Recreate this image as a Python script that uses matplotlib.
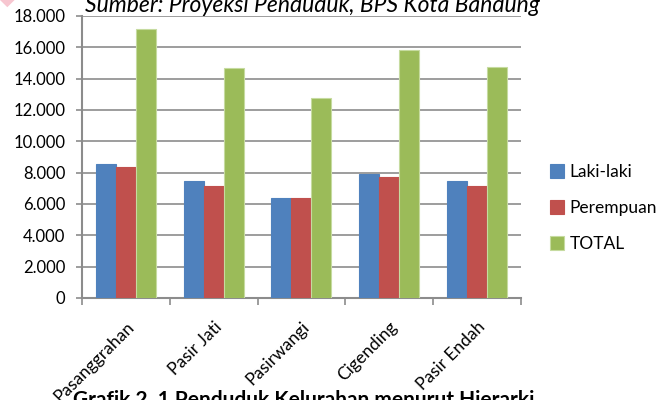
import numpy as np
import matplotlib
matplotlib.use("Agg")
import matplotlib.pyplot as plt
from matplotlib.patches import Polygon
from matplotlib.ticker import FuncFormatter

plt.rcParams['font.family'] = ['Lato', 'DejaVu Sans']

# Jumlah penduduk per kelurahan
kelurahan = ["Pasanggrahan", "Pasir Jati", "Pasirwangi", "Cigending", "Pasir Endah"]
laki = [8560, 7450, 6380, 7940, 7450]
perempuan = [8370, 7150, 6380, 7730, 7150]
total = [17150, 14660, 12770, 15810, 14770]

series = [("Laki-laki", laki, "#4F81BD", "#4F81BD"),
          ("Perempuan", perempuan, "#C0504D", "#C0504D"),
          ("TOTAL", total, "#9BBB59", "#C6DBA0")]

fig = plt.figure(figsize=(6.64, 4.0), dpi=100)
ax = fig.add_axes([0.1235, 0.255, 0.661, 0.705])

x = np.arange(len(kelurahan))
w = 0.228
for i, (name, vals, col, edge) in enumerate(series):
    ax.bar(x + (i - 1) * w, vals, width=w, color=col, edgecolor=edge,
           linewidth=0.8, label=name, zorder=3)

ax.set_xlim(-0.5, len(kelurahan) - 0.5)
ax.set_ylim(0, 18000)
ax.set_yticks(np.arange(0, 18001, 2000))
ax.yaxis.set_major_formatter(FuncFormatter(lambda v, p: "0" if v == 0 else "{:,.0f}".format(v).replace(",", ".")))
ax.grid(axis='y', color='#8C8C8C', linewidth=1.2, zorder=0)

ax.set_xticks(np.arange(-0.5, len(kelurahan), 1.0), minor=False)
ax.set_xticklabels([])
ax.set_xticks(x, minor=True)
ax.set_xticklabels(kelurahan, minor=True, rotation=45, ha='right', va='top',
                   rotation_mode='anchor', fontsize=12.5)
ax.tick_params(axis='x', which='minor', length=0, pad=15)
ax.tick_params(axis='x', which='major', length=5, color='#8C8C8C', width=1.2)
ax.tick_params(axis='y', length=4, color='#8C8C8C', width=1.2, pad=8, labelsize=12)

for s in ['top', 'right']:
    ax.spines[s].set_visible(False)
for s in ['left', 'bottom']:
    ax.spines[s].set_color('#8C8C8C')
    ax.spines[s].set_linewidth(1.5)

ax.legend(loc='center left', bbox_to_anchor=(1.03, 0.32), frameon=False,
          fontsize=12.5, handlelength=0.85, handleheight=0.85, labelspacing=1.15,
          handletextpad=0.3)

# Keterangan sumber (atas) dan judul grafik (bawah)
fig.text(0.471, 0.971, "Sumber: Proyeksi Penduduk, BPS Kota Bandung",
         ha='center', va='baseline', fontsize=16.5, style='italic')
fig.text(0.11, -0.015, "Grafik 2. 1 Penduduk Kelurahan menurut Hierarki",
         ha='left', va='baseline', fontsize=15, weight='bold')

# sisa tanda merah muda di pojok kiri atas
fig.patches.append(Polygon([(0.0, 1.0), (0.022, 1.0), (0.011, 0.982)], closed=True,
                           transform=fig.transFigure, facecolor='#F7C6D0',
                           edgecolor='none', figure=fig))

fig.savefig("out.png", dpi=100)
